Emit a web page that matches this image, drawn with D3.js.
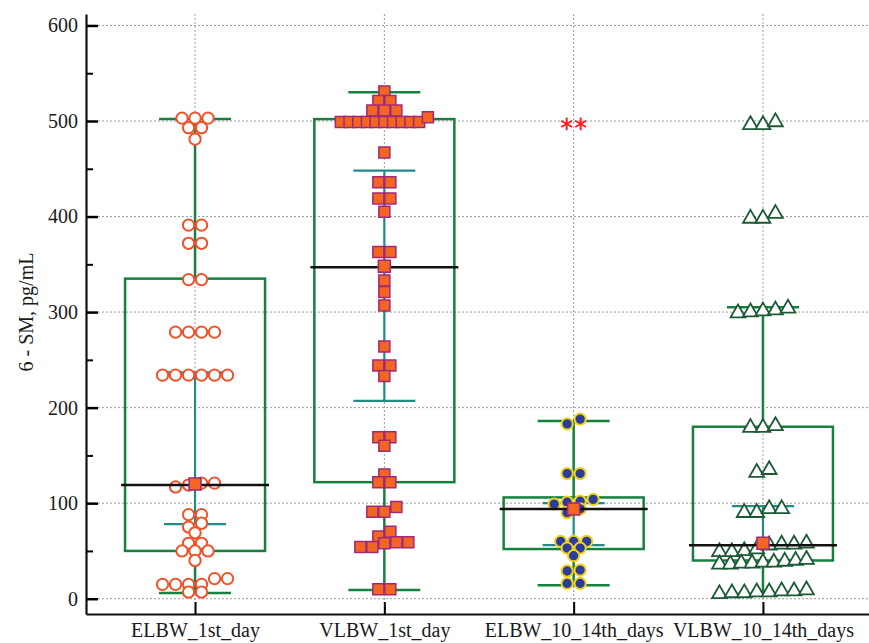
<!DOCTYPE html>
<html>
<head>
<meta charset="utf-8">
<script src="https://cdn.jsdelivr.net/npm/d3@7"></script>
<style>
  body { margin: 0; background: #fff; }
  svg { display: block; font-family: "Liberation Serif", "Times New Roman", serif; }
</style>
</head>
<body>
<svg id="chart" width="869" height="643"></svg>
<script>
// chart data
const categories = ["ELBW_1st_day", "VLBW_1st_day", "ELBW_10_14th_days", "VLBW_10_14th_days"];
const q1Values = [50, 122, 52, 40];
const q3Values = [335, 502, 106, 180];
const medianValues = [119, 347, 94, 56];
const meanValues = [120, 348, 94, 58];
const whiskerLow = [6, 9, 14, 5];
const whiskerHigh = [502, 530, 186, 305];
const errLow = [78, 207, 56, 38];
const errHigh = [237, 448, 100, 97];
const yTicks = [0, 100, 200, 300, 400, 500, 600];
const yMinorTicks = [50, 150, 250, 350, 450, 550];

const elbw1stValues = [503, 503, 503, 493, 493, 481, 391, 391, 372, 372, 334, 334, 279, 279, 279, 279,
  234, 234, 234, 234, 234, 234, 121, 121, 119, 117, 88, 88, 79, 75, 69, 58, 58, 50, 50, 50, 40,
  21, 21, 15, 15, 15, 15, 7, 7];
const vlbw1stValues = [531, 521, 521, 511, 511, 511, 504, 499, 499, 499, 499, 499, 499, 499, 499, 499, 499,
  467, 436, 436, 419, 419, 405, 363, 363, 333, 321, 307, 264, 244, 244, 233, 169, 169, 160,
  130, 122, 122, 96, 91, 91, 70, 65, 59, 59, 58, 54, 54, 10, 10];
const elbw1014Values = [188, 183, 131, 131, 104, 102, 101, 99, 94, 90, 60, 60, 60, 53, 53, 45, 30, 29, 16, 16];
const vlbw1014Values = [499, 496, 496, 403, 398, 398, 304, 302, 301, 300, 299, 181, 179, 179, 135, 132,
  94, 94, 90, 90, 58, 57, 57, 56, 52, 50, 49, 49, 41, 40, 39, 38, 38, 37, 37, 36, 36,
  9, 8, 8, 7, 7, 6, 6, 5];
const outlierValues = [[], [], [497, 497], []];

const seriesValues = [elbw1stValues, vlbw1stValues, elbw1014Values, vlbw1014Values];

// marker look for each group
const markerStyles = [
  { type: d3.symbolCircle, size: 100, fill: "#fff", stroke: "#f0522a", sw: 2, spacing: 13, tol: 6 },
  { type: d3.symbolSquare, size: 121, fill: "#f2661f", stroke: "#a2287a", sw: 1.5, spacing: 12, tol: 5 },
  { type: d3.symbolCircle, size: 100, fill: "#2c3c9c", stroke: "#f3d21c", sw: 2, spacing: 13, tol: 5 },
  { type: d3.symbolTriangle, size: 95, fill: "#fff", stroke: "#1c5a34", sw: 1.8, spacing: 12.5, tol: 9 }
];

const boxGreen = "#17803f";
const teal = "#1f8c8c";
const maxRow = 87;

const svg = d3.select("#chart");

const x = d3.scalePoint()
  .domain(categories)
  .range([86, 872])
  .padding(0.576);

const y = d3.scaleLinear()
  .domain([-16, 612])
  .range([614, 14]);

// grid
const grid = svg.append("g");
grid.selectAll(".hgrid")
  .data(yTicks)
  .enter()
  .append("line")
  .attr("x1", 86).attr("x2", 869)
  .attr("y1", d => y(d)).attr("y2", d => y(d))
  .attr("stroke", "#9a9a9a")
  .attr("stroke-dasharray", "2,2");
grid.selectAll(".vgrid")
  .data(categories)
  .enter()
  .append("line")
  .attr("x1", d => x(d)).attr("x2", d => x(d))
  .attr("y1", 14).attr("y2", 614)
  .attr("stroke", "#9a9a9a")
  .attr("stroke-dasharray", "2,2");

// arrange points of one group in rows, higher values to the right
function layoutRows(values, tol, spacing) {
  const sorted = values.slice().sort((a, b) => b - a);
  const rows = [];
  let cur = null;
  sorted.forEach(v => {
    if (!cur || cur.start - v > tol) {
      cur = { start: v, vals: [] };
      rows.push(cur);
    }
    cur.vals.push(v);
  });
  const out = [];
  rows.forEach(r => {
    const vals = r.vals.slice().sort((a, b) => a - b);
    const n = vals.length;
    const step = n > 1 ? Math.min(spacing, maxRow / (n - 1)) : 0;
    vals.forEach((v, i) => out.push({ value: v, dx: (i - (n - 1) / 2) * step }));
  });
  return out;
}

const groups = categories.map((c, i) => ({
  name: c,
  q1: q1Values[i], q3: q3Values[i],
  median: medianValues[i], mean: meanValues[i],
  wLow: whiskerLow[i], wHigh: whiskerHigh[i],
  eLow: errLow[i], eHigh: errHigh[i],
  style: markerStyles[i],
  points: layoutRows(seriesValues[i], markerStyles[i].tol, markerStyles[i].spacing),
  outliers: layoutRows(outlierValues[i], 5, 14)
}));

const g = svg.selectAll(".group")
  .data(groups)
  .enter()
  .append("g")
  .attr("class", "group")
  .attr("transform", d => "translate(" + x(d.name) + ",0)");

// box
g.append("rect")
  .attr("x", -70)
  .attr("y", d => y(d.q3))
  .attr("width", 140)
  .attr("height", d => y(d.q1) - y(d.q3))
  .attr("fill", "none")
  .attr("stroke", boxGreen)
  .attr("stroke-width", 2.5);

// whiskers
g.append("line").attr("y1", d => y(d.q3)).attr("y2", d => y(d.wHigh))
  .attr("stroke", boxGreen).attr("stroke-width", 2.5);
g.append("line").attr("y1", d => y(d.q1)).attr("y2", d => y(d.wLow))
  .attr("stroke", boxGreen).attr("stroke-width", 2.5);
g.append("line").attr("x1", -36).attr("x2", 36)
  .attr("y1", d => y(d.wHigh)).attr("y2", d => y(d.wHigh))
  .attr("stroke", boxGreen).attr("stroke-width", 2.5);
g.append("line").attr("x1", -36).attr("x2", 36)
  .attr("y1", d => y(d.wLow)).attr("y2", d => y(d.wLow))
  .attr("stroke", boxGreen).attr("stroke-width", 2.5);

// teal range bar
g.append("line").attr("y1", d => y(d.eLow)).attr("y2", d => y(d.eHigh))
  .attr("stroke", teal).attr("stroke-width", 2.2);
g.append("line").attr("x1", -31).attr("x2", 31)
  .attr("y1", d => y(d.eHigh)).attr("y2", d => y(d.eHigh))
  .attr("stroke", teal).attr("stroke-width", 2.2);
g.append("line").attr("x1", -31).attr("x2", 31)
  .attr("y1", d => y(d.eLow)).attr("y2", d => y(d.eLow))
  .attr("stroke", teal).attr("stroke-width", 2.2);

// data points
g.each(function (d) {
  const st = d.style;
  const sym = d3.symbol().type(st.type).size(st.size);
  d3.select(this).selectAll(".pt")
    .data(d.points)
    .enter()
    .append("path")
    .attr("class", "pt")
    .attr("d", sym)
    .attr("transform", p => "translate(" + p.dx + "," + y(p.value) + ")")
    .attr("fill", st.fill)
    .attr("stroke", st.stroke)
    .attr("stroke-width", st.sw);
});

// median
g.append("line").attr("x1", -74).attr("x2", 74)
  .attr("y1", d => y(d.median)).attr("y2", d => y(d.median))
  .attr("stroke", "#111").attr("stroke-width", 2.5);

// mean
g.append("path")
  .attr("d", d3.symbol().type(d3.symbolSquare).size(144))
  .attr("transform", d => "translate(0," + y(d.mean) + ")")
  .attr("fill", "#f2661f")
  .attr("stroke", "#a2287a")
  .attr("stroke-width", 1.5);

// outliers
g.each(function (d) {
  d3.select(this).selectAll(".out")
    .data(d.outliers)
    .enter()
    .append("path")
    .attr("class", "out")
    .attr("d", d3.symbol().type(d3.symbolAsterisk).size(110))
    .attr("transform", p => "translate(" + p.dx + "," + y(p.value) + ")")
    .attr("fill", "none")
    .attr("stroke", "#ff2020")
    .attr("stroke-width", 2);
});

// axes
const yAxisG = svg.append("g")
  .attr("transform", "translate(86,0)")
  .call(d3.axisLeft(y).tickValues(yTicks).tickSize(-12).tickSizeOuter(0).tickPadding(8));
yAxisG.selectAll(".tick line").attr("stroke-width", 2.5);

const yMinorG = svg.append("g")
  .attr("transform", "translate(86,0)")
  .call(d3.axisLeft(y).tickValues(yMinorTicks).tickSize(-7).tickFormat(""));
yMinorG.select(".domain").remove();
yMinorG.selectAll(".tick line").attr("stroke-width", 2);

const xAxisG = svg.append("g")
  .attr("transform", "translate(0,614)")
  .call(d3.axisBottom(x).tickSize(-12).tickSizeOuter(0).tickPadding(9));
xAxisG.selectAll(".tick line").attr("stroke-width", 2);

svg.selectAll(".domain").attr("stroke", "#111").attr("stroke-width", 2.2);
svg.selectAll(".tick text")
  .attr("font-family", "Liberation Serif, Times New Roman, serif")
  .attr("font-size", 20)
  .attr("fill", "#1a1a1a");

svg.append("text")
  .attr("transform", "translate(33,312)rotate(-90)")
  .attr("text-anchor", "middle")
  .attr("font-size", 20)
  .attr("fill", "#1a1a1a")
  .text("6 - SM, pg/mL");
</script>
</body>
</html>
